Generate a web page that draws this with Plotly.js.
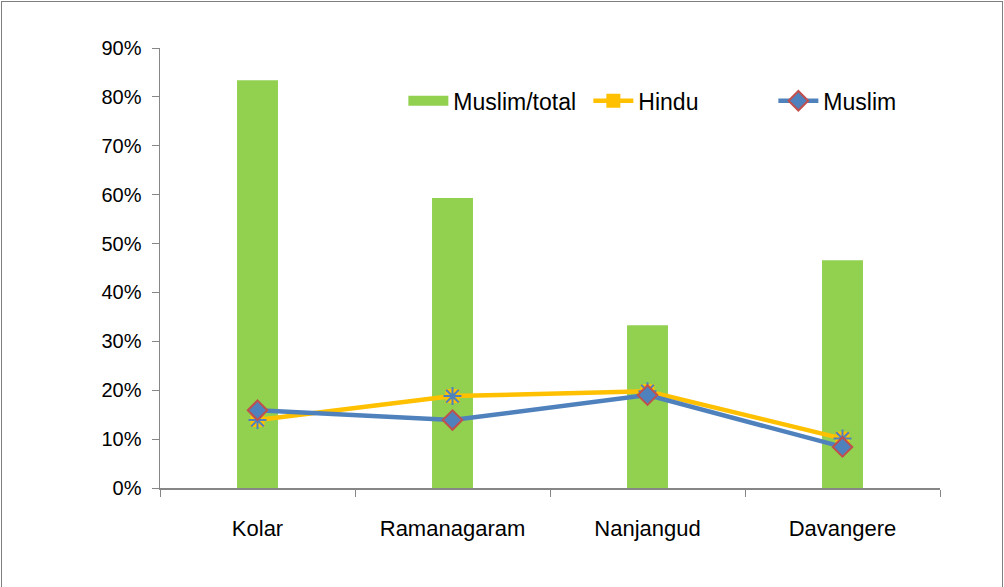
<!DOCTYPE html>
<html>
<head>
<meta charset="utf-8">
<script src="https://cdn.plot.ly/plotly-3.0.1.min.js"></script>
<style>
html,body{margin:0;padding:0;background:#fff;}
#wrap{position:absolute;left:1px;top:1px;width:1000px;height:600px;border:1px solid #7f7f7f;}
#chart{position:absolute;left:0;top:0;width:1004px;height:587px;}
</style>
</head>
<body>
<div id="wrap"></div>
<div id="chart"></div>
<script>
var categories = ["Kolar", "Ramanagaram", "Nanjangud", "Davangere"];
var muslimTotal = [0.834, 0.593, 0.333, 0.466];
var hindu = [0.139, 0.188, 0.198, 0.101];
var muslim = [0.159, 0.139, 0.190, 0.084];
var yTicks = [0, 0.1, 0.2, 0.3, 0.4, 0.5, 0.6, 0.7, 0.8, 0.9];
var yTickText = ["0%", "10%", "20%", "30%", "40%", "50%", "60%", "70%", "80%", "90%"];

var fam = "Liberation Sans, Arial, sans-serif";
var green = "#92D050", yellow = "#FFC000", blue = "#4F81BD", red = "#C0504D";

var traces = [
  {type: "bar", x: categories, y: muslimTotal, name: "Muslim/total",
   marker: {color: green}, showlegend: false},
  // legend swatch for the bars (wide green block like the original)
  {type: "scatter", mode: "lines", x: [categories[0]], y: [null], name: "Muslim/total",
   line: {color: green, width: 20}, hoverinfo: "skip"},
  {type: "scatter", mode: "lines+markers", x: categories, y: hindu, name: "Hindu",
   legendgroup: "h",
   line: {color: yellow, width: 4.5},
   marker: {symbol: "square", size: 14, color: yellow, line: {color: yellow, width: 0}}},
  {type: "scatter", mode: "markers", x: categories, y: hindu, name: "Hindu",
   legendgroup: "h", showlegend: false,
   marker: {symbol: "asterisk-open", size: 15, color: blue, line: {color: blue, width: 2}}},
  {type: "scatter", mode: "lines+markers", x: categories, y: muslim, name: "Muslim",
   line: {color: blue, width: 4.5},
   marker: {symbol: "diamond", size: 15, color: blue, line: {color: red, width: 2}}}
];

var layout = {
  width: 1004, height: 587,
  margin: {l: 160, r: 64, t: 48, b: 99},
  paper_bgcolor: "rgba(0,0,0,0)", plot_bgcolor: "rgba(0,0,0,0)",
  font: {family: fam, size: 20, color: "#000"},
  bargap: 0.79,
  showlegend: true,
  legend: {orientation: "h", x: 0.312, xanchor: "left", y: 0.88, yanchor: "middle",
           font: {family: fam, size: 23, color: "#000"}, bgcolor: "rgba(0,0,0,0)",
           itemwidth: 40, traceorder: "normal", entrywidth: 130},
  xaxis: {type: "category", showline: true, linecolor: "#868686", linewidth: 1.5,
          ticks: "outside", tickson: "boundaries", ticklen: 7, tickcolor: "#868686",
          showgrid: false, zeroline: false, ticklabelstandoff: 20,
          tickfont: {family: fam, size: 22, color: "#000"}},
  yaxis: {range: [0, 0.9], showline: true, linecolor: "#868686", linewidth: 1.5,
          ticks: "outside", ticklen: 7, tickcolor: "#868686",
          tickvals: yTicks, ticktext: yTickText, showgrid: false, zeroline: false,
          tickfont: {family: fam, size: 20, color: "#000"}, ticklabelstandoff: 6}
};

Plotly.newPlot("chart", traces, layout, {displayModeBar: false, staticPlot: true});
</script>
</body>
</html>
